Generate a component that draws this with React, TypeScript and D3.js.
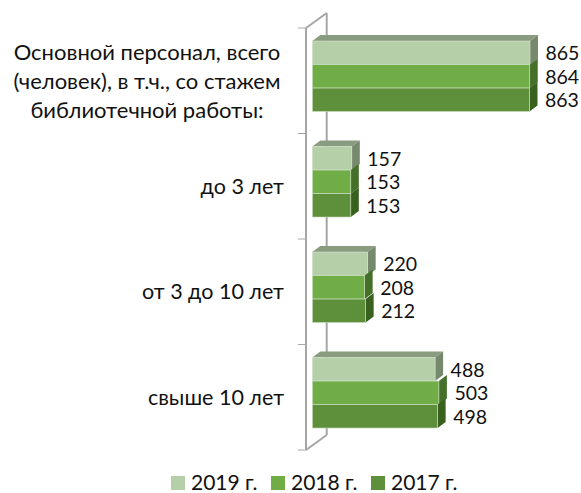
import React from "react";
import * as d3 from "d3";

const categories = ["main", "до 3 лет", "от 3 до 10 лет", "свыше 10 лет"];
const mainLabelLines = ["Основной персонал, всего", "(человек), в т.ч., со стажем", "библиотечной работы:"];
const seriesNames = ["2019 г.", "2018 г.", "2017 г."];
const values2019 = [865, 157, 220, 488];
const values2018 = [864, 153, 208, 503];
const values2017 = [863, 153, 212, 498];
const seriesValues = [values2019, values2018, values2017];
const frontColors = ["#b5cfa8", "#70ad47", "#5e8f3a"];
const topColors = ["#8a9c80", "#6f8a5e", "#6f8a5e"];
const sideColors = ["#77896d", "#44702a", "#38601f"];

const FONT = "Lato, 'Noto Sans', sans-serif";
const DX = 8;
const DY = -6;

export default function App() {
  const x = d3.scaleLinear().domain([0, 865]).range([312.3, 530]);
  const y = d3.scaleBand<string>().domain(categories).range([28, 450]);
  const axisX = 306;
  const axisTop = y.range()[0];
  const axisBottom = y.range()[1];
  const backX = axisX + 20.7;
  const backDy = -15;
  const tickYs = [...categories.map((c) => y(c) as number), axisBottom];

  const inner = d3.scaleBand<number>().domain([0, 1, 2]).range([0, 70.5]);
  const groupTop = (c: string) => (y(c) as number) + y.bandwidth() / 2 - 39.7;

  const gray = "#a6a6a6";

  const legendX = d3.scalePoint<string>().domain(seriesNames).range([171, 371]);

  return (
    <svg width={581} height={493} style={{ position: "absolute", left: 0, top: 0 }} fontFamily={FONT}>
      <g stroke={gray} strokeWidth={2} fill="none">
        <line x1={backX} x2={backX} y1={axisTop + backDy} y2={axisBottom + backDy} />
        <line x1={axisX} x2={backX} y1={axisTop} y2={axisTop + backDy} />
        <line x1={axisX} x2={backX} y1={axisBottom} y2={axisBottom + backDy} />
        <line x1={axisX} x2={axisX} y1={axisTop} y2={axisBottom} />
      </g>
      <g stroke={gray} strokeWidth={1}>
        {tickYs.map((t) => (
          <line key={t} x1={axisX - 8} x2={axisX} y1={t} y2={t} />
        ))}
      </g>
      {categories.map((c, ci) => {
        const top = groupTop(c);
        return (
          <g key={c}>
            {seriesValues.map((vals, si) => {
              const v = vals[ci];
              const x0 = x(0);
              const x1 = x(v);
              const y0 = top + (inner(si) as number);
              const h = inner.bandwidth();
              return (
                <g key={si}>
                  {si === 0 && (
                    <polygon
                      points={`${x0},${y0} ${x0 + DX},${y0 + DY} ${x1 + DX},${y0 + DY} ${x1},${y0}`}
                      fill={topColors[si]}
                    />
                  )}
                  <polygon
                    points={`${x1},${y0} ${x1 + DX},${y0 + DY} ${x1 + DX},${y0 + h + DY} ${x1},${y0 + h}`}
                    fill={sideColors[si]}
                  />
                  <rect x={x0} y={y0} width={x1 - x0} height={h} fill={frontColors[si]} stroke="#d5e3cd" strokeWidth={0.6} />
                  <text
                    x={x1 + 15.5}
                    y={y0 + h / 2}
                    dominantBaseline="central"
                    fontSize={19.5}
                    fill="#111"
                  >
                    {v}
                  </text>
                </g>
              );
            })}
          </g>
        );
      })}
      <text textAnchor="middle" fontSize={22} fill="#111">
        {mainLabelLines.map((l, i) => (
          <tspan key={l} x={147} y={60 + i * 29}>
            {l}
          </tspan>
        ))}
      </text>
      {categories.slice(1).map((c) => (
        <text
          key={c}
          x={284}
          y={groupTop(c) + 35 + 12}
          textAnchor="end"
          fontSize={21.5}
          fill="#111"
        >
          {c}
        </text>
      ))}
      {seriesNames.map((s, i) => (
        <g key={s}>
          <rect x={legendX(s)} y={476} width={14} height={14} fill={frontColors[i]} />
          <text x={(legendX(s) as number) + 20} y={489.5} fontSize={21} fill="#111">
            {s}
          </text>
        </g>
      ))}
    </svg>
  );
}
